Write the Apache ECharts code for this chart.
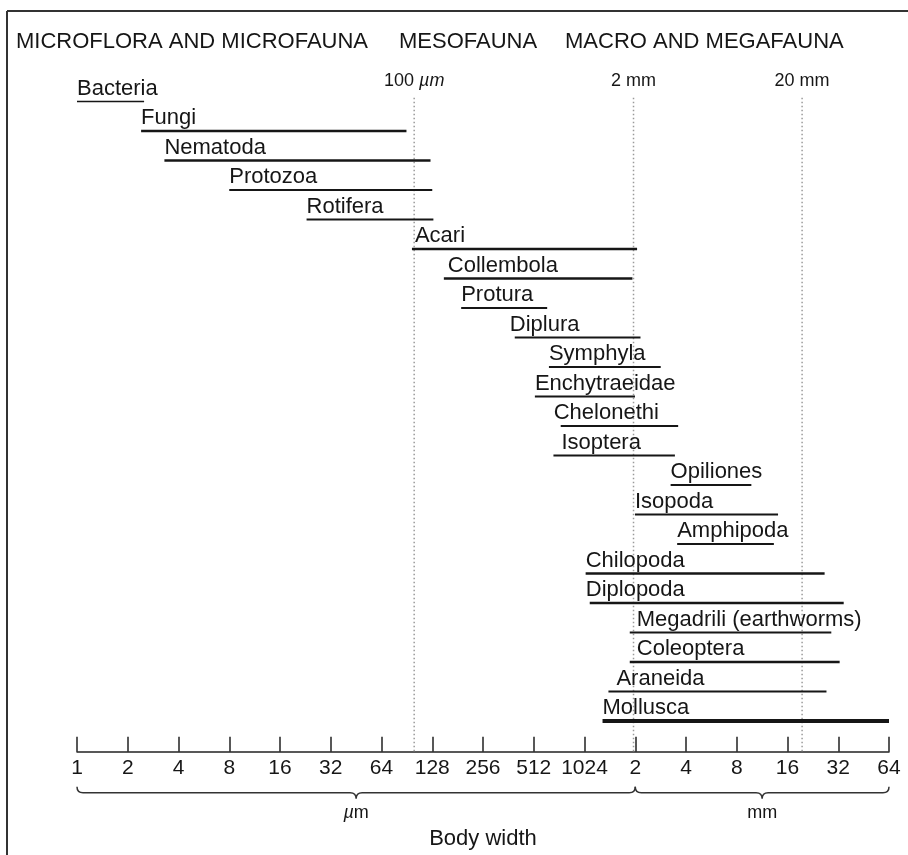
<!DOCTYPE html>
<html>
<head>
<meta charset="utf-8">
<script src="https://cdn.jsdelivr.net/npm/echarts@6/dist/echarts.min.js"></script>
<style>
  html, body { margin: 0; padding: 0; background: #fff; }
  #chart { width: 908px; height: 855px; }
</style>
</head>
<body>
<div id="chart"></div>
<script>
// Body-width ranges of soil organisms, in micrometres (log2 axis).
const taxa = [
  'Bacteria', 'Fungi', 'Nematoda', 'Protozoa', 'Rotifera', 'Acari',
  'Collembola', 'Protura', 'Diplura', 'Symphyla', 'Enchytraeidae',
  'Chelonethi', 'Isoptera', 'Opiliones', 'Isopoda', 'Amphipoda',
  'Chilopoda', 'Diplopoda', 'Megadrili (earthworms)', 'Coleoptera',
  'Araneida', 'Mollusca'
];
const widthFrom = [
  1, 2.4, 3.3, 8, 23, 97,
  150, 190, 395, 630, 520,
  740, 670, 3320, 2040, 3630,
  1040, 1100, 1900, 1900,
  1420, 1310
];
const widthTo = [
  2.5, 90, 125, 128, 130, 2100,
  1970, 615, 2200, 2900, 2040,
  3680, 3520, 10000, 14400, 13600,
  27200, 35300, 29800, 33400,
  27900, 65536
];

// Axis tick labels, one per doubling from 1 µm to 64 mm.
const tickLabels = ['1', '2', '4', '8', '16', '32', '64', '128', '256', '512', '1024',
                    '2', '4', '8', '16', '32', '64'];

// Vertical reference lines (µm) and their captions.
const refValues = [100, 2000, 20000];
const refLabels = ['100 {i|µm}', '2 mm', '20 mm'];

// Unit spans bracketed under the axis.
const unitFrom = [1, 2048];
const unitTo = [2048, 65536];
const unitNames = ['{i|µ}m', 'mm'];

// Size classes written across the top.
const groupTitles = ['MICROFLORA AND MICROFAUNA', 'MESOFAUNA', 'MACRO AND MEGAFAUNA'];

// ---- styling ----
const FONT = '"Liberation Sans", Arial, Helvetica, sans-serif';
const INK = '#161616';
const strokeWidth = {
  'Bacteria': 1.5, 'Fungi': 2.5, 'Nematoda': 2.5, 'Acari': 2.5, 'Collembola': 2.5,
  'Chilopoda': 2.5, 'Diplopoda': 2.5, 'Coleoptera': 2.5, 'Mollusca': 4
};
const labelShift = {
  'Acari': 3, 'Collembola': 4, 'Diplura': -5, 'Chelonethi': -7, 'Isoptera': 8,
  'Diplopoda': -4, 'Megadrili (earthworms)': 7, 'Coleoptera': 7, 'Araneida': 8
};
const AXIS_OFFSET = 16;

const chart = echarts.init(document.getElementById('chart'), null, { renderer: 'canvas' });

const titleLeft = [16, 399, 565];

chart.setOption({
  animation: false,
  backgroundColor: '#fff',
  title: groupTitles.map((t, i) => ({
    text: t,
    left: titleLeft[i],
    top: 31,
    padding: 0,
    textStyle: { fontFamily: FONT, fontSize: 22, fontWeight: 'normal', color: INK }
  })),
  grid: {
    left: 77, right: 19, top: 86.75, bottom: 119.25,
    containLabel: false, outerBoundsMode: 'none'
  },
  xAxis: {
    type: 'log',
    logBase: 2,
    min: 1,
    max: 65536,
    interval: 1,
    offset: AXIS_OFFSET,
    name: 'Body width',
    nameLocation: 'middle',
    nameGap: 76,
    nameTextStyle: { fontFamily: FONT, fontSize: 22, color: INK },
    axisLine: { show: true, lineStyle: { color: '#222', width: 1.5 } },
    axisTick: { show: true, inside: true, length: 15, lineStyle: { color: '#222', width: 1.5 } },
    axisLabel: {
      margin: 6,
      fontFamily: FONT,
      fontSize: 21,
      color: INK,
      showMinLabel: true,
      showMaxLabel: true,
      formatter: v => tickLabels[Math.round(Math.log2(v))] || ''
    },
    splitLine: { show: false },
    minorTick: { show: false }
  },
  yAxis: {
    type: 'category',
    inverse: true,
    data: taxa,
    show: false
  },
  graphic: [
    { type: 'line', shape: { x1: 7, y1: 11, x2: 908, y2: 11 }, style: { stroke: '#333', lineWidth: 2 } },
    { type: 'line', shape: { x1: 7, y1: 11, x2: 7, y2: 855 }, style: { stroke: '#333', lineWidth: 2 } }
  ],
  series: [
    {
      // dotted reference lines with captions
      type: 'custom',
      z: 1,
      clip: false,
      encode: { x: 0, y: 1 },
      data: refValues.map(v => [v, 0]),
      renderItem(params, api) {
        const cs = params.coordSys;
        const x = api.coord([api.value(0), 0])[0];
        return {
          type: 'group',
          children: [
            {
              type: 'line',
              shape: { x1: x, y1: cs.y + 11, x2: x, y2: cs.y + cs.height + AXIS_OFFSET },
              style: { stroke: '#9a9a9a', lineWidth: 1.5, lineDash: [1.5, 2.5] }
            },
            {
              type: 'text',
              x: x,
              y: cs.y - 6,
              style: {
                text: refLabels[params.dataIndex],
                fill: INK,
                font: '18px ' + FONT,
                align: 'center',
                verticalAlign: 'middle',
                rich: { i: { fontFamily: FONT, fontSize: 18, fontStyle: 'italic', fill: INK } }
              }
            }
          ]
        };
      }
    },
    {
      // one horizontal range bar per taxon, name written above its start
      type: 'custom',
      z: 3,
      clip: false,
      encode: { x: [0, 1], y: 2 },
      data: taxa.map((n, i) => [widthFrom[i], widthTo[i], i]),
      renderItem(params, api) {
        const name = taxa[params.dataIndex];
        const a = api.coord([api.value(0), api.value(2)]);
        const b = api.coord([api.value(1), api.value(2)]);
        return {
          type: 'group',
          children: [
            {
              type: 'line',
              shape: { x1: a[0], y1: a[1], x2: b[0], y2: b[1] },
              style: { stroke: INK, lineWidth: strokeWidth[name] || 2 }
            },
            {
              type: 'text',
              x: a[0] + (labelShift[name] || 0),
              y: a[1] - 2,
              style: {
                text: name,
                fill: INK,
                font: '22px ' + FONT,
                align: 'left',
                verticalAlign: 'bottom'
              }
            }
          ]
        };
      }
    },
    {
      // curly braces grouping the µm and mm parts of the scale
      type: 'custom',
      z: 2,
      clip: false,
      encode: { x: [0, 1], y: 2 },
      data: unitFrom.map((v, i) => [v, unitTo[i], 0]),
      renderItem(params, api) {
        const cs = params.coordSys;
        const axisY = cs.y + cs.height + AXIS_OFFSET;
        const x0 = api.coord([api.value(0), 0])[0];
        const x1 = api.coord([api.value(1), 0])[0];
        const m = (x0 + x1) / 2;
        const yb = axisY + 41, ye = axisY + 35, yt = axisY + 47, r = 6;
        const d = `M${x0} ${ye} Q${x0} ${yb} ${x0 + r} ${yb} L${m - r} ${yb} ` +
                  `Q${m} ${yb} ${m} ${yt} Q${m} ${yb} ${m + r} ${yb} ` +
                  `L${x1 - r} ${yb} Q${x1} ${yb} ${x1} ${ye}`;
        return {
          type: 'group',
          children: [
            {
              type: 'path',
              shape: { pathData: d },
              style: { stroke: '#333', fill: null, lineWidth: 1.5 }
            },
            {
              type: 'text',
              x: m,
              y: axisY + 61,
              style: {
                text: unitNames[params.dataIndex],
                fill: INK,
                font: '18px ' + FONT,
                align: 'center',
                verticalAlign: 'middle',
                rich: { i: { fontFamily: FONT, fontSize: 18, fontStyle: 'italic', fill: INK } }
              }
            }
          ]
        };
      }
    }
  ]
});
</script>
</body>
</html>
